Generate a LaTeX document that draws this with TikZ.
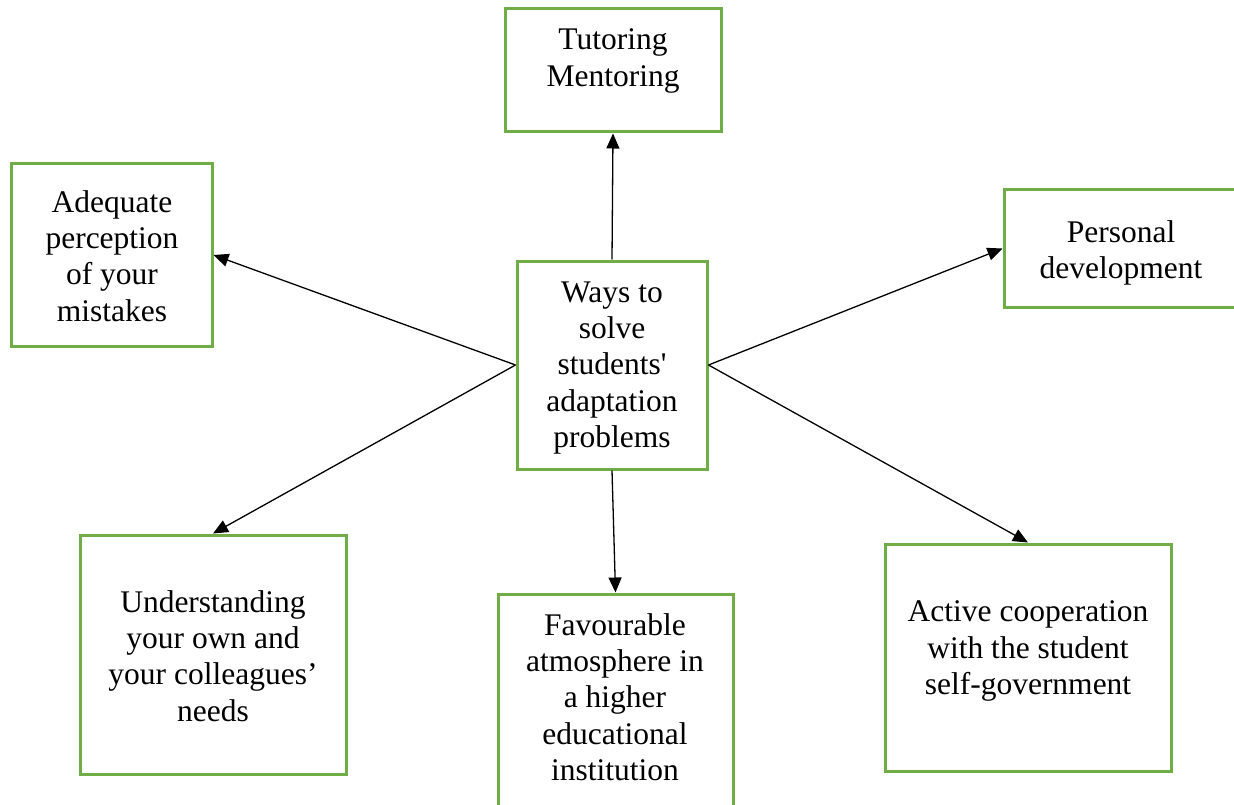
\documentclass[tikz,border=0pt]{standalone}
\usepackage{fontspec}
\setmainfont{Liberation Serif}
\usetikzlibrary{arrows.meta}
\definecolor{boxgreen}{HTML}{70AD47}
\begin{document}
\begin{tikzpicture}[x=1pt,y=-1pt,
  box/.style={draw=boxgreen, line width=3pt, rectangle, inner sep=0pt},
  txt/.style={align=center, inner sep=0pt, font=\fontsize{31.5}{36.3}\selectfont},
  arr/.style={draw=black, line width=1.3pt, -{Triangle[length=15pt,width=13pt]}}]
  \useasboundingbox (0,0) rectangle (1234,805);
  \clip (0,0) rectangle (1234,805);
  % frames
  \node[box, minimum width=216pt, minimum height=123pt] (tut) at (613,70.5) {};
  \node[box, minimum width=201pt, minimum height=182pt] (adq) at (111.5,255) {};
  \node[box, minimum width=190pt, minimum height=208pt] (c) at (612,365) {};
  \node[box, minimum width=236pt, minimum height=117pt] (per) at (1122,248.5) {};
  \node[box, minimum width=266pt, minimum height=239pt] (und) at (213,654.5) {};
  \node[box, minimum width=235pt, minimum height=216pt] (fav) at (615.5,702) {};
  \node[box, minimum width=286pt, minimum height=227pt] (act) at (1028,657.5) {};
  % texts
  \node[txt] (tutT) at (613,61) {Tutoring\\Mentoring};
  \node[txt] (adqT) at (112,256) {Adequate\\perception\\of your\\mistakes};
  \node[txt] (cT) at (612,368) {Ways to\\solve\\students\textquotesingle\\adaptation\\problems};
  \node[txt] (perT) at (1121,253) {Personal\\development};
  \node[txt] (undT) at (213,656) {Understanding\\your own and\\your colleagues’\\needs};
  \node[txt] (favT) at (615,697) {Favourable\\atmosphere in\\a higher\\educational\\institution};
  \node[txt] (actT) at (1028,651) {Active cooperation\\with the student\\self-government};
  % connectors
  \draw[arr] (c.north) -- (tut.south);
  \draw[arr] (c.west) -- (adq.east);
  \draw[arr] (c.west) -- (und.north);
  \draw[arr] (c.east) -- (per.west);
  \draw[arr] (c.east) -- (act.north);
  \draw[arr] (c.south) -- (fav.north);
\end{tikzpicture}
\end{document}
